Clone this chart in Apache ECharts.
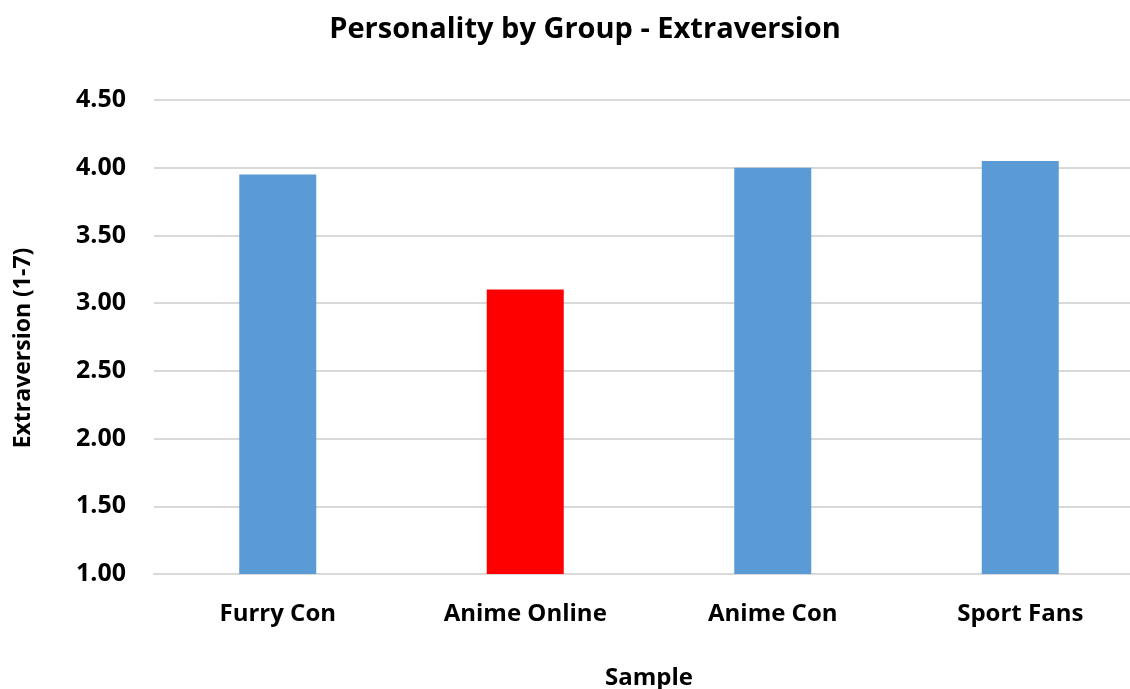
<!DOCTYPE html>
<html><head><meta charset="utf-8">
<script src="https://cdn.jsdelivr.net/npm/echarts@6/dist/echarts.min.js"></script>
<style>html,body{margin:0;padding:0;background:#fff}#c{width:1130px;height:689px}</style>
</head><body><div id="c"></div>
<script>
const categories = ['Furry Con', 'Anime Online', 'Anime Con', 'Sport Fans'];
const values = [3.95, 3.10, 4.00, 4.05];
const barColors = ['#5b9bd5', '#ff0000', '#5b9bd5', '#5b9bd5'];
const FONT = "'Open Sans', 'Noto Sans', sans-serif";
const chart = echarts.init(document.getElementById('c'));
chart.setOption({
  animation: false,
  title: {
    text: 'Personality by Group - Extraversion',
    left: 580, top: 10, textAlign: 'center',
    textStyle: {fontFamily: FONT, fontSize: 29, fontWeight: 'bold', color: '#000'}
  },
  grid: {left: 154, top: 100, width: 990, height: 474, containLabel: false, outerBoundsMode: 'none'},
  xAxis: {
    type: 'category', data: categories,
    name: 'Sample', nameLocation: 'middle', nameGap: 92,
    nameTextStyle: {fontFamily: FONT, fontSize: 24, fontWeight: 'bold', color: '#000'},
    axisLine: {show: true, lineStyle: {color: '#d9d9d9', width: 2}},
    axisTick: {show: false},
    axisLabel: {fontFamily: FONT, fontSize: 24, fontWeight: 'bold', color: '#000', margin: 28}
  },
  yAxis: {
    type: 'value', min: 1, max: 4.5, interval: 0.5,
    name: 'Extraversion (1-7)', nameLocation: 'middle', nameGap: 119, nameRotate: 90,
    nameTextStyle: {fontFamily: FONT, fontSize: 23, fontWeight: 'bold', color: '#000', padding: [0, 22, 0, 0]},
    axisLine: {show: false}, axisTick: {show: false},
    axisLabel: {fontFamily: FONT, fontSize: 25, fontWeight: 'bold', color: '#000', margin: 28,
      formatter: v => v.toFixed(2)},
    splitLine: {lineStyle: {color: '#d9d9d9', width: 2}}
  },
  series: [{
    type: 'bar', barWidth: 77,
    data: values.map((v, i) => ({value: v, itemStyle: {color: barColors[i]}}))
  }]
});
</script></body></html>
